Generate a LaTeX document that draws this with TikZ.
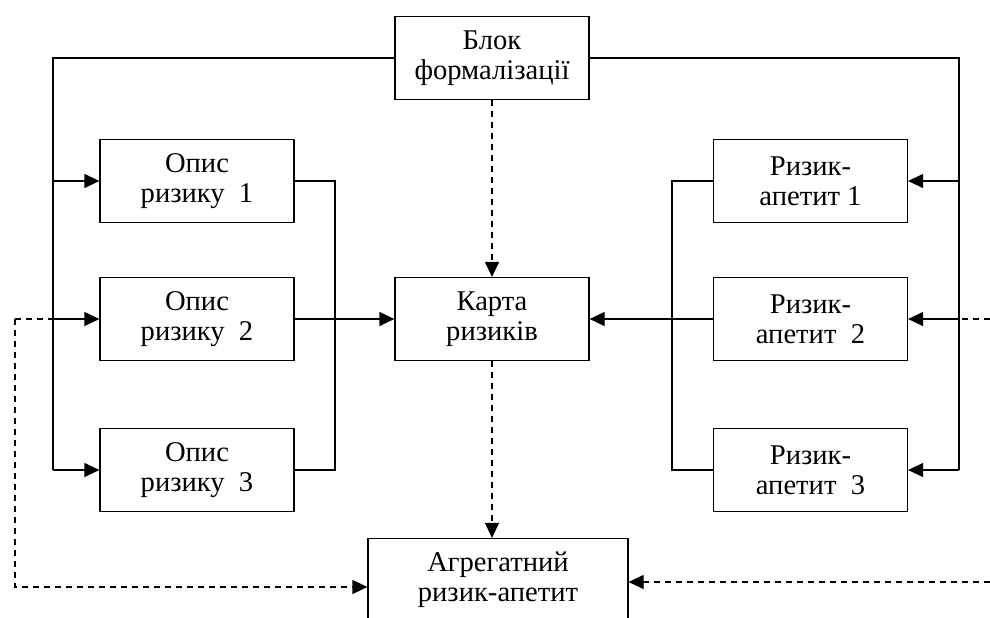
\documentclass[tikz,border=0pt]{standalone}
\usepackage{fontspec}
\setmainfont{Liberation Serif}
\usetikzlibrary{arrows.meta}
\tikzset{
  blk/.style={draw,line width=0.6pt,minimum width=97pt,minimum height=41.5pt,
    align=center,inner sep=1pt,font=\fontsize{14.3}{15}\selectfont},
  dsh/.style={dash pattern=on 3pt off 2.5pt}
}
\begin{document}
\begin{tikzpicture}[x=0.5pt,y=-0.5pt,>={Triangle[length=7.5pt,width=7pt]},line width=0.6pt]
			\useasboundingbox (0,0) rectangle (990,617);
			% blocks
			\node[blk] (blok) at (492,58) {Блок\\формалізації};
			\node[blk] (opys1) at (197,181) {Опис\\ризику\ \ 1};
			\node[blk] (opys2) at (197,319) {Опис\\ризику\ \ 2};
			\node[blk] (opys3) at (197,470) {Опис\\ризику\ \ 3};
			\node[blk] (karta) at (492,319) {Карта\\ризиків};
			\node[blk] (apet1) at (810.5,181) {Ризик-\\апетит 1};
			\node[blk] (apet2) at (810.5,319) {Ризик-\\апетит\ \ 2};
			\node[blk] (apet3) at (810.5,470) {Ризик-\\апетит\ \ 3};
			\node[blk,minimum width=130pt] (agreg) at (498,580) {Агрегатний\\ризик-апетит};
			% bus points
			\coordinate (lb) at (53,470);
			\coordinate (lc) at (335,181);
			\coordinate (rb) at (959,470);
			\coordinate (rc) at (672,181);
			\coordinate (ld) at (15,319);
			\coordinate (lbot) at (15,587);
			\coordinate (rd) at (990,319);
			\coordinate (rbot) at (990,582);
			% left side
			\draw (blok.west) -| (lb);
			\draw[->] (opys1.west -| lb) -- (opys1.west);
			\draw[->] (opys2.west -| lb) -- (opys2.west);
			\draw[->] (opys3.west -| lb) -- (opys3.west);
			\draw (opys1.east) -- (opys1.east -| lc) -- (opys3.east -| lc) -- (opys3.east);
			\draw[->] (opys2.east) -- (karta.west);
			% right side
			\draw (blok.east) -| (rb);
			\draw[->] (apet1.east -| rb) -- (apet1.east);
			\draw[->] (apet2.east -| rb) -- (apet2.east);
			\draw[->] (apet3.east -| rb) -- (apet3.east);
			\draw (apet1.west) -- (apet1.west -| rc) -- (apet3.west -| rc) -- (apet3.west);
			\draw[->] (apet2.west) -- (karta.east);
			% dashed links
			\draw[->,dsh] (blok) -- (karta);
			\draw[->,dsh] (karta.south) -- (karta.south |- agreg.north);
			\draw[dsh] (ld) -- (opys2.west -| lb);
			\draw[->,dsh] (ld) -- (lbot) -- (lbot -| agreg.west);
			\draw[dsh] (rd) -- (apet2.east -| rb);
			\draw[->,dsh] (rbot) -- (rbot -| agreg.east);
			\end{tikzpicture}
\end{document}
